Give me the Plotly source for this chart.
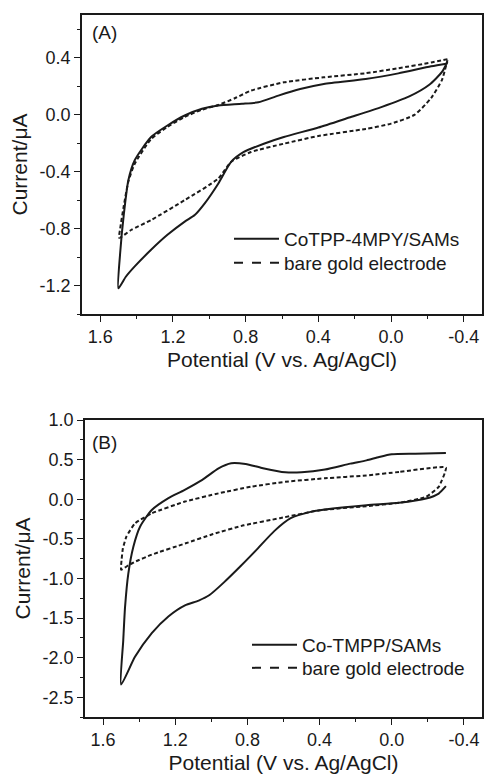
import plotly.graph_objects as go

# ---------------- data ----------------
# Panel A: CoTPP-4MPY/SAMs (solid) and bare gold electrode (dashed)
a_cotpp_E = [-0.31, -0.22, -0.04, 0.14, 0.37, 0.50, 0.62, 0.73, 0.82, 0.95, 1.04, 1.135, 1.23, 1.32,
             1.41, 1.445, 1.47, 1.49, 1.50, 1.46, 1.41, 1.32, 1.23, 1.135, 1.08, 1.025, 0.95,
             0.88, 0.81, 0.70, 0.59, 0.40, 0.23, 0.05, -0.10, -0.21, -0.28, -0.31]
a_cotpp_I = [0.36, 0.34, 0.29, 0.25, 0.216, 0.18, 0.134, 0.087, 0.076, 0.064, 0.041, -0.006, -0.076,
             -0.157, -0.32, -0.46, -0.70, -0.97, -1.22, -1.14, -1.066, -0.949, -0.844, -0.751,
             -0.705, -0.623, -0.483, -0.332, -0.262, -0.204, -0.157, -0.09, -0.02, 0.055, 0.128,
             0.21, 0.30, 0.37]

a_gold_E = [-0.31, -0.22, -0.04, 0.14, 0.37, 0.59, 0.77, 0.86, 0.95, 1.04, 1.135, 1.23, 1.32, 1.41,
            1.445, 1.47, 1.49, 1.495, 1.43, 1.32, 1.135, 0.95, 0.88, 0.77, 0.59, 0.40, 0.14, 0.0,
            -0.13, -0.22, -0.28, -0.31]
a_gold_I = [0.39, 0.366, 0.326, 0.291, 0.262, 0.227, 0.169, 0.115, 0.068, 0.035, -0.016, -0.086,
            -0.172, -0.345, -0.47, -0.64, -0.80, -0.865, -0.81, -0.74, -0.60, -0.448, -0.332,
            -0.262, -0.204, -0.15, -0.10, -0.063, 0.0, 0.117, 0.245, 0.384]

# Panel B: Co-TMPP/SAMs (solid) and bare gold electrode (dashed)
b_cotmpp_E = [-0.30, -0.13, 0.0, 0.07, 0.14, 0.23, 0.37, 0.50, 0.59, 0.72, 0.81, 0.89, 0.96, 1.05,
              1.15, 1.24, 1.33, 1.395, 1.432, 1.46, 1.478, 1.488, 1.50, 1.423, 1.33, 1.238, 1.146,
              1.07, 1.01, 0.93, 0.84, 0.75, 0.65, 0.56, 0.45, 0.37, 0.14, -0.04, -0.19, -0.26, -0.30]
b_cotmpp_I = [0.584, 0.575, 0.567, 0.533, 0.49, 0.449, 0.375, 0.34, 0.34, 0.395, 0.445, 0.455, 0.39,
              0.245, 0.116, 0.011, -0.136, -0.347, -0.60, -0.94, -1.36, -1.78, -2.34, -1.99, -1.69,
              -1.48, -1.34, -1.28, -1.21, -1.05, -0.85, -0.64, -0.40, -0.24, -0.16, -0.13, -0.076,
              -0.046, 0.008, 0.071, 0.164]

b_gold_E = [-0.30, -0.04, 0.14, 0.37, 0.59, 0.78, 0.96, 1.146, 1.33, 1.423, 1.47, 1.49, 1.497, 1.50,
            1.46, 1.423, 1.33, 1.146, 0.99, 0.82, 0.62, 0.40, 0.14, -0.04, -0.19, -0.26, -0.30]
b_gold_I = [0.40, 0.344, 0.30, 0.264, 0.22, 0.158, 0.074, -0.03, -0.178, -0.305, -0.47, -0.62,
            -0.76, -0.89, -0.835, -0.79, -0.70, -0.56, -0.44, -0.33, -0.24, -0.14, -0.088, -0.046,
            0.029, 0.155, 0.40]

# tick labels
x_tickvals = [1.6, 1.2, 0.8, 0.4, 0.0, -0.4]
x_ticktext = ["1.6", "1.2", "0.8", "0.4", "0.0", "-0.4"]
a_y_tickvals = [0.4, 0.0, -0.4, -0.8, -1.2]
a_y_ticktext = ["0.4", "0.0", "-0.4", "-0.8", "-1.2"]
b_y_tickvals = [1.0, 0.5, 0.0, -0.5, -1.0, -1.5, -2.0, -2.5]
b_y_ticktext = ["1.0", "0.5", "0.0", "-0.5", "-1.0", "-1.5", "-2.0", "-2.5"]

names_a = ["CoTPP-4MPY/SAMs", "bare gold electrode"]
names_b = ["Co-TMPP/SAMs", "bare gold electrode"]

# ---------------- figure ----------------
FONT = "Arial, 'Liberation Sans', sans-serif"
INK = "#1a1a1a"
W, H = 484, 774

fig = go.Figure()

curve_dash = "4px,2.5px"


def add_curve(x, y, dash, xa, ya, smoothing=0.6):
    fig.add_trace(go.Scatter(x=x, y=y, mode="lines", xaxis=xa, yaxis=ya, showlegend=False,
                             line=dict(color=INK, width=2, dash=dash, shape="spline",
                                       smoothing=smoothing),
                             hoverinfo="skip"))


def add_legend_entry(name, dash, xa, ya, legend):
    fig.add_trace(go.Scatter(x=[None], y=[None], mode="lines", name=name, xaxis=xa, yaxis=ya,
                             legend=legend, line=dict(color=INK, width=2, dash=dash)))


add_curve(a_cotpp_E, a_cotpp_I, "solid", "x", "y")
add_curve(a_gold_E, a_gold_I, curve_dash, "x", "y")
add_curve(b_cotmpp_E, b_cotmpp_I, "solid", "x2", "y2")
add_curve(b_gold_E, b_gold_I, curve_dash, "x2", "y2", smoothing=0.4)

add_legend_entry(names_a[0], "solid", "x", "y", "legend")
add_legend_entry(names_a[1], "dash", "x", "y", "legend2")
add_legend_entry(names_b[0], "solid", "x2", "y2", "legend3")
add_legend_entry(names_b[1], "dash", "x2", "y2", "legend4")

axis_common = dict(
    showgrid=False, zeroline=False, showline=True, linecolor=INK, linewidth=1.5, mirror=True,
    ticks="outside", ticklen=6, tickwidth=1.3, tickcolor=INK,
    tickfont=dict(family=FONT, size=18, color=INK),
    title_font=dict(family=FONT, size=21, color=INK),
    automargin=False, fixedrange=True,
)

x_common = dict(axis_common, range=[1.7, -0.5], tickmode="array", tickvals=x_tickvals,
                ticktext=x_ticktext,
                minor=dict(dtick=0.2, tick0=0, ticks="outside", ticklen=3, tickwidth=1.2,
                           tickcolor=INK),
                title=dict(text="Potential (V vs. Ag/AgCl)", standoff=6))


def legend_at(x_px, y_px):
    return dict(x=x_px / W, y=1 - y_px / H, xanchor="left", yanchor="middle",
                bgcolor="rgba(0,0,0,0)", font=dict(family=FONT, size=19, color=INK),
                itemwidth=45, tracegroupgap=0)


fig.update_layout(
    width=W, height=H,
    margin=dict(l=0, r=0, t=0, b=0),
    paper_bgcolor="white", plot_bgcolor="white",
    font=dict(family=FONT, color=INK),
    xaxis=dict(x_common, domain=[82 / W, 482 / W], anchor="y"),
    yaxis=dict(axis_common, domain=[1 - 314 / H, 1 - 15 / H], anchor="x", range=[-1.4, 0.7],
               tickmode="array", tickvals=a_y_tickvals, ticktext=a_y_ticktext,
               minor=dict(dtick=0.2, tick0=0, ticks="outside", ticklen=3, tickwidth=1.2,
                          tickcolor=INK),
               title=dict(text="Current/μA", standoff=6)),
    xaxis2=dict(x_common, domain=[85 / W, 482 / W], anchor="y2"),
    yaxis2=dict(axis_common, domain=[1 - 717 / H, 1 - 420 / H], anchor="x2", range=[-2.75, 1.0],
                tickmode="array", tickvals=b_y_tickvals, ticktext=b_y_ticktext,
                minor=dict(dtick=0.25, tick0=0, ticks="outside", ticklen=3, tickwidth=1.2,
                           tickcolor=INK),
                title=dict(text="Current/μA", standoff=6)),
    legend=legend_at(229, 239),
    legend2=legend_at(229, 263),
    legend3=legend_at(247, 645),
    legend4=legend_at(247, 668),
    annotations=[
        dict(text="(A)", x=90 / W, y=1 - 33 / H, xref="paper", yref="paper", xanchor="left",
             yanchor="middle", showarrow=False, font=dict(family=FONT, size=19, color=INK)),
        dict(text="(B)", x=90 / W, y=1 - 442 / H, xref="paper", yref="paper", xanchor="left",
             yanchor="middle", showarrow=False, font=dict(family=FONT, size=19, color=INK)),
    ],
)

fig.write_html("out.html",
               config={"displayModeBar": False},
               post_script="document.body.style.margin='0';"
                           "document.body.style.overflow='hidden';")
